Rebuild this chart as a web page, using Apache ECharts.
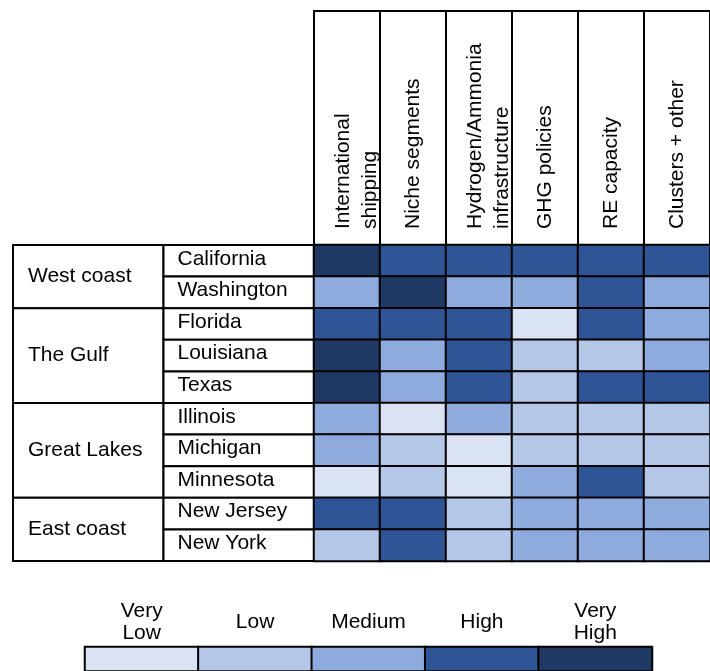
<!DOCTYPE html>
<html><head><meta charset="utf-8">
<script src="https://cdn.jsdelivr.net/npm/echarts@6/dist/echarts.min.js"></script>
<style>html,body{margin:0;padding:0;background:#fff}#c{width:710px;height:671px}</style>
</head><body><div id="c"></div>
<script>
// ---- data ----
const columns = ['International\nshipping', 'Niche segments', 'Hydrogen/Ammonia\ninfrastructure', 'GHG policies', 'RE capacity', 'Clusters + other'];
const regions = ['West coast', 'The Gulf', 'Great Lakes', 'East coast'];
const regionSizes = [2, 3, 3, 2];
const states = ['California', 'Washington', 'Florida', 'Louisiana', 'Texas', 'Illinois', 'Michigan', 'Minnesota', 'New Jersey', 'New York'];
// 1 = Very Low ... 5 = Very High
const scores = [
  [5, 4, 4, 4, 4, 4],
  [3, 5, 3, 3, 4, 3],
  [4, 4, 4, 1, 4, 3],
  [5, 3, 4, 2, 2, 3],
  [5, 3, 4, 2, 4, 4],
  [3, 1, 3, 2, 2, 2],
  [3, 2, 1, 2, 2, 2],
  [1, 2, 1, 3, 4, 2],
  [4, 4, 2, 3, 3, 3],
  [2, 4, 2, 3, 3, 3]
];
const levels = ['Very\nLow', 'Low', 'Medium', 'High', 'Very\nHigh'];
const levelScores = [1, 2, 3, 4, 5];

// ---- derived tables ----
const cellData = [];
scores.forEach((row, r) => row.forEach((v, c) => cellData.push([c, r, v])));
const regionData = [];
let acc = 0;
regionSizes.forEach((n) => { regionData.push([acc, acc + n]); acc += n; });
const stateData = states.map((s, i) => [i, i + 1]);
const legendData = levelScores.map((v, i) => [i, 0, v]);

const FONT = 'Liberation Sans, Arial, sans-serif';
const txt = { fontFamily: FONT, fontSize: 21, color: '#000' };

const chart = echarts.init(document.getElementById('c'), null, { renderer: 'canvas' });

function cellRenderer(names, colFrom, colTo, inset, dy) {
  return function (params, api) {
    const p0 = api.coord([colFrom, api.value(0)]);
    const p1 = api.coord([colTo, api.value(1)]);
    return {
      type: 'group',
      children: [
        { type: 'rect', shape: { x: p0[0], y: p0[1], width: p1[0] - p0[0], height: p1[1] - p0[1] },
          style: { fill: '#fff', stroke: '#000', lineWidth: 2 } },
        { type: 'text', x: p0[0] + inset, y: (p0[1] + p1[1]) / 2 + dy,
          style: { text: names[params.dataIndex], font: '21px ' + FONT, fill: '#000',
                   align: 'left', verticalAlign: 'middle' } }
      ]
    };
  };
}

// two-line column headers sit a little right of the column centre (small lead-in line)
function headerFormatter(v) {
  if (v.indexOf('\n') < 0) return v;
  return '{e| }\n' + v.split('\n').map((l) => '{m|' + l + '}').join('\n');
}

chart.setOption({
  animation: false,
  backgroundColor: '#fff',
  grid: [
    { left: 314, top: 11, width: 408, height: 234, show: true, borderColor: '#000', borderWidth: 2, backgroundColor: 'transparent' },
    { left: 314, top: 245, width: 408, height: 316 },
    { left: 13, top: 245, width: 301, height: 316 },
    { left: 85, top: 647, width: 567, height: 40 }
  ],
  xAxis: [
    { gridIndex: 0, type: 'category', data: columns, axisLine: { show: false }, axisTick: { show: false }, axisLabel: { show: false },
      splitLine: { show: true, interval: 0, lineStyle: { color: '#000', width: 2 } } },
    { gridIndex: 1, type: 'category', data: columns, position: 'top', axisLine: { show: false }, axisTick: { show: false },
      axisLabel: Object.assign({ interval: 0, rotate: -90, margin: 16, lineHeight: 26, formatter: headerFormatter,
        rich: {
          e: { fontFamily: FONT, fontSize: 21, lineHeight: 19, color: '#000' },
          m: { fontFamily: FONT, fontSize: 21, lineHeight: 27, color: '#000' }
        } }, txt), splitLine: { show: false } },
    { gridIndex: 2, type: 'value', min: 0, max: 2, show: false },
    { gridIndex: 3, type: 'category', data: levels, position: 'top', axisLine: { show: false }, axisTick: { show: false },
      axisLabel: Object.assign({ interval: 0, margin: 25, lineHeight: 22, verticalAlign: 'middle', align: 'center' }, txt) }
  ],
  yAxis: [
    { gridIndex: 0, type: 'value', show: false },
    { gridIndex: 1, type: 'category', data: states, inverse: true, show: false },
    { gridIndex: 2, type: 'value', min: 0, max: 10, inverse: true, show: false },
    { gridIndex: 3, type: 'category', data: [''], show: false }
  ],
  visualMap: {
    type: 'piecewise', show: false, dimension: 2, seriesIndex: [2, 3],
    pieces: [
      { value: 1, color: '#DAE3F3' },
      { value: 2, color: '#B4C7E7' },
      { value: 3, color: '#8FAADC' },
      { value: 4, color: '#2F5597' },
      { value: 5, color: '#203864' }
    ]
  },
  series: [
    { type: 'custom', xAxisIndex: 2, yAxisIndex: 2, data: regionData, renderItem: cellRenderer(regions, 0, 1, 15, 0), silent: true },
    { type: 'custom', xAxisIndex: 2, yAxisIndex: 2, data: stateData, renderItem: cellRenderer(states, 1, 2, 14, -2), silent: true },
    { type: 'heatmap', xAxisIndex: 1, yAxisIndex: 1, data: cellData, itemStyle: { borderColor: '#000', borderWidth: 2 },
      emphasis: { disabled: true }, silent: true },
    { type: 'heatmap', xAxisIndex: 3, yAxisIndex: 3, data: legendData, itemStyle: { borderColor: '#000', borderWidth: 2 },
      emphasis: { disabled: true }, silent: true }
  ]
});
</script></body></html>
